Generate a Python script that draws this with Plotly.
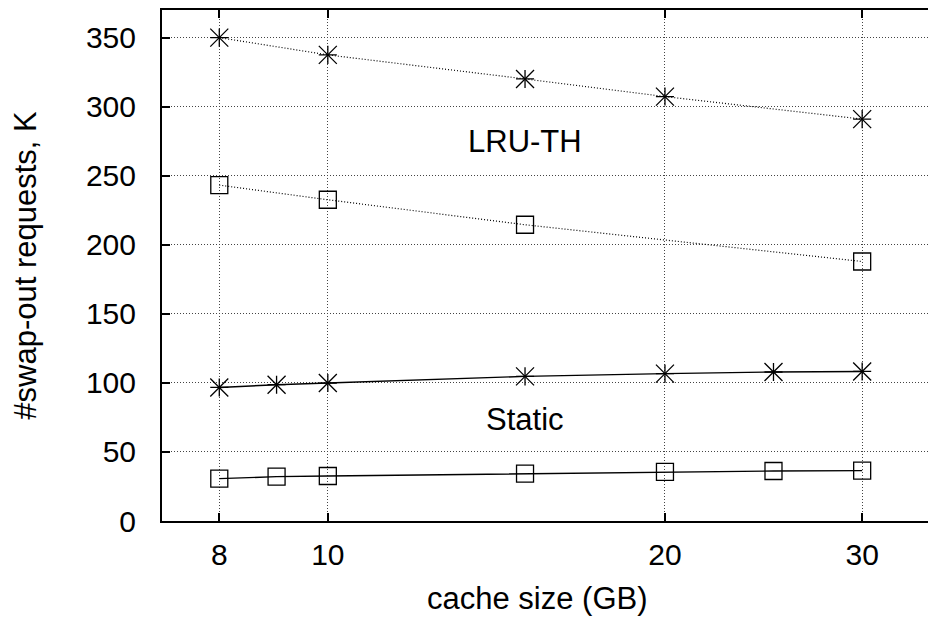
import plotly.graph_objects as go

# Data
lru_x = [8, 10, 15, 20, 30]
lru_star = [350, 337.5, 320.1, 307.3, 291.0]
lru_sq_x = [8, 10, 15, 30]
lru_square = [243.2, 232.6, 214.5, 187.9]

static_x = [8, 9, 10, 15, 20, 25, 30]
static_star = [96.7, 98.7, 99.9, 104.7, 106.7, 107.9, 108.3]
static_square = [30.7, 32.1, 32.6, 34.3, 35.5, 36.2, 36.5]

x_ticks = [8, 10, 20, 30]
x_tick_labels = ["8", "10", "20", "30"]
y_ticks = [0, 50, 100, 150, 200, 250, 300, 350]

FONT = "Liberation Sans, Arial, Helvetica, sans-serif"
DOT = "1px,2px"

fig = go.Figure()

def star(x, y, dash):
    # line + x-part of the asterisk
    fig.add_trace(go.Scatter(
        x=x, y=y, mode="lines+markers",
        line=dict(color="black", width=1.2 if dash != "solid" else 1.4, dash=dash),
        marker=dict(symbol="x-thin-open", size=18, color="black",
                    line=dict(color="black", width=1.3)),
        showlegend=False, hoverinfo="skip"))
    # plus-part of the asterisk
    fig.add_trace(go.Scatter(
        x=x, y=y, mode="markers",
        marker=dict(symbol="cross-thin-open", size=12.9, color="black",
                    line=dict(color="black", width=1.3)),
        showlegend=False, hoverinfo="skip"))

def square(x, y, dash):
    fig.add_trace(go.Scatter(
        x=x, y=y, mode="lines+markers",
        line=dict(color="black", width=1.2 if dash != "solid" else 1.4, dash=dash),
        marker=dict(symbol="square-open", size=17, color="black",
                    line=dict(color="black", width=1.3)),
        showlegend=False, hoverinfo="skip"))

star(lru_x, lru_star, DOT)
square(lru_sq_x, lru_square, DOT)
star(static_x, static_star, "solid")
square(static_x, static_square, "solid")

fig.update_layout(
    width=928, height=621,
    margin=dict(l=162, r=0, t=10, b=100),
    paper_bgcolor="white", plot_bgcolor="white",
    font=dict(family=FONT, size=30, color="black"),
    xaxis=dict(
        type="log", range=[0.85194, 1.5359],
        tickvals=x_ticks, ticktext=x_tick_labels,
        ticks="inside", ticklen=8, tickwidth=1.5, tickcolor="black",
        showline=True, linecolor="black", linewidth=2, mirror="ticks",
        showgrid=True, gridcolor="#444", gridwidth=1, griddash=DOT,
        zeroline=False, tickfont=dict(size=30, family=FONT),
        ticklabelstandoff=6,
    ),
    yaxis=dict(
        range=[0, 370], tickvals=y_ticks,
        ticks="inside", ticklen=8, tickwidth=1.5, tickcolor="black",
        showline=True, linecolor="black", linewidth=2, mirror=False,
        showgrid=True, gridcolor="#444", gridwidth=1, griddash=DOT,
        zeroline=False, tickfont=dict(size=30, family=FONT),
        ticklabelstandoff=18,
        title=dict(text="#swap-out requests, K", font=dict(size=31, family=FONT), standoff=40),
    ),
    annotations=[
        dict(text="LRU-TH", xref="paper", yref="paper", x=0.4739, y=0.7436,
             xanchor="center", yanchor="middle", showarrow=False,
             font=dict(size=31, family=FONT)),
        dict(text="Static", xref="paper", yref="paper", x=0.4739, y=0.1977,
             xanchor="center", yanchor="middle", showarrow=False,
             font=dict(size=31, family=FONT)),
        dict(text="cache size (GB)", xref="paper", yref="paper", x=0.49, y=0,
             yshift=-77, xanchor="center", yanchor="middle", showarrow=False,
             font=dict(size=31, family=FONT)),
    ],
)

fig.write_html(
    "out.html",
    config={"displayModeBar": False},
    post_script="document.body.style.margin='0';document.body.style.overflow='hidden';",
)
